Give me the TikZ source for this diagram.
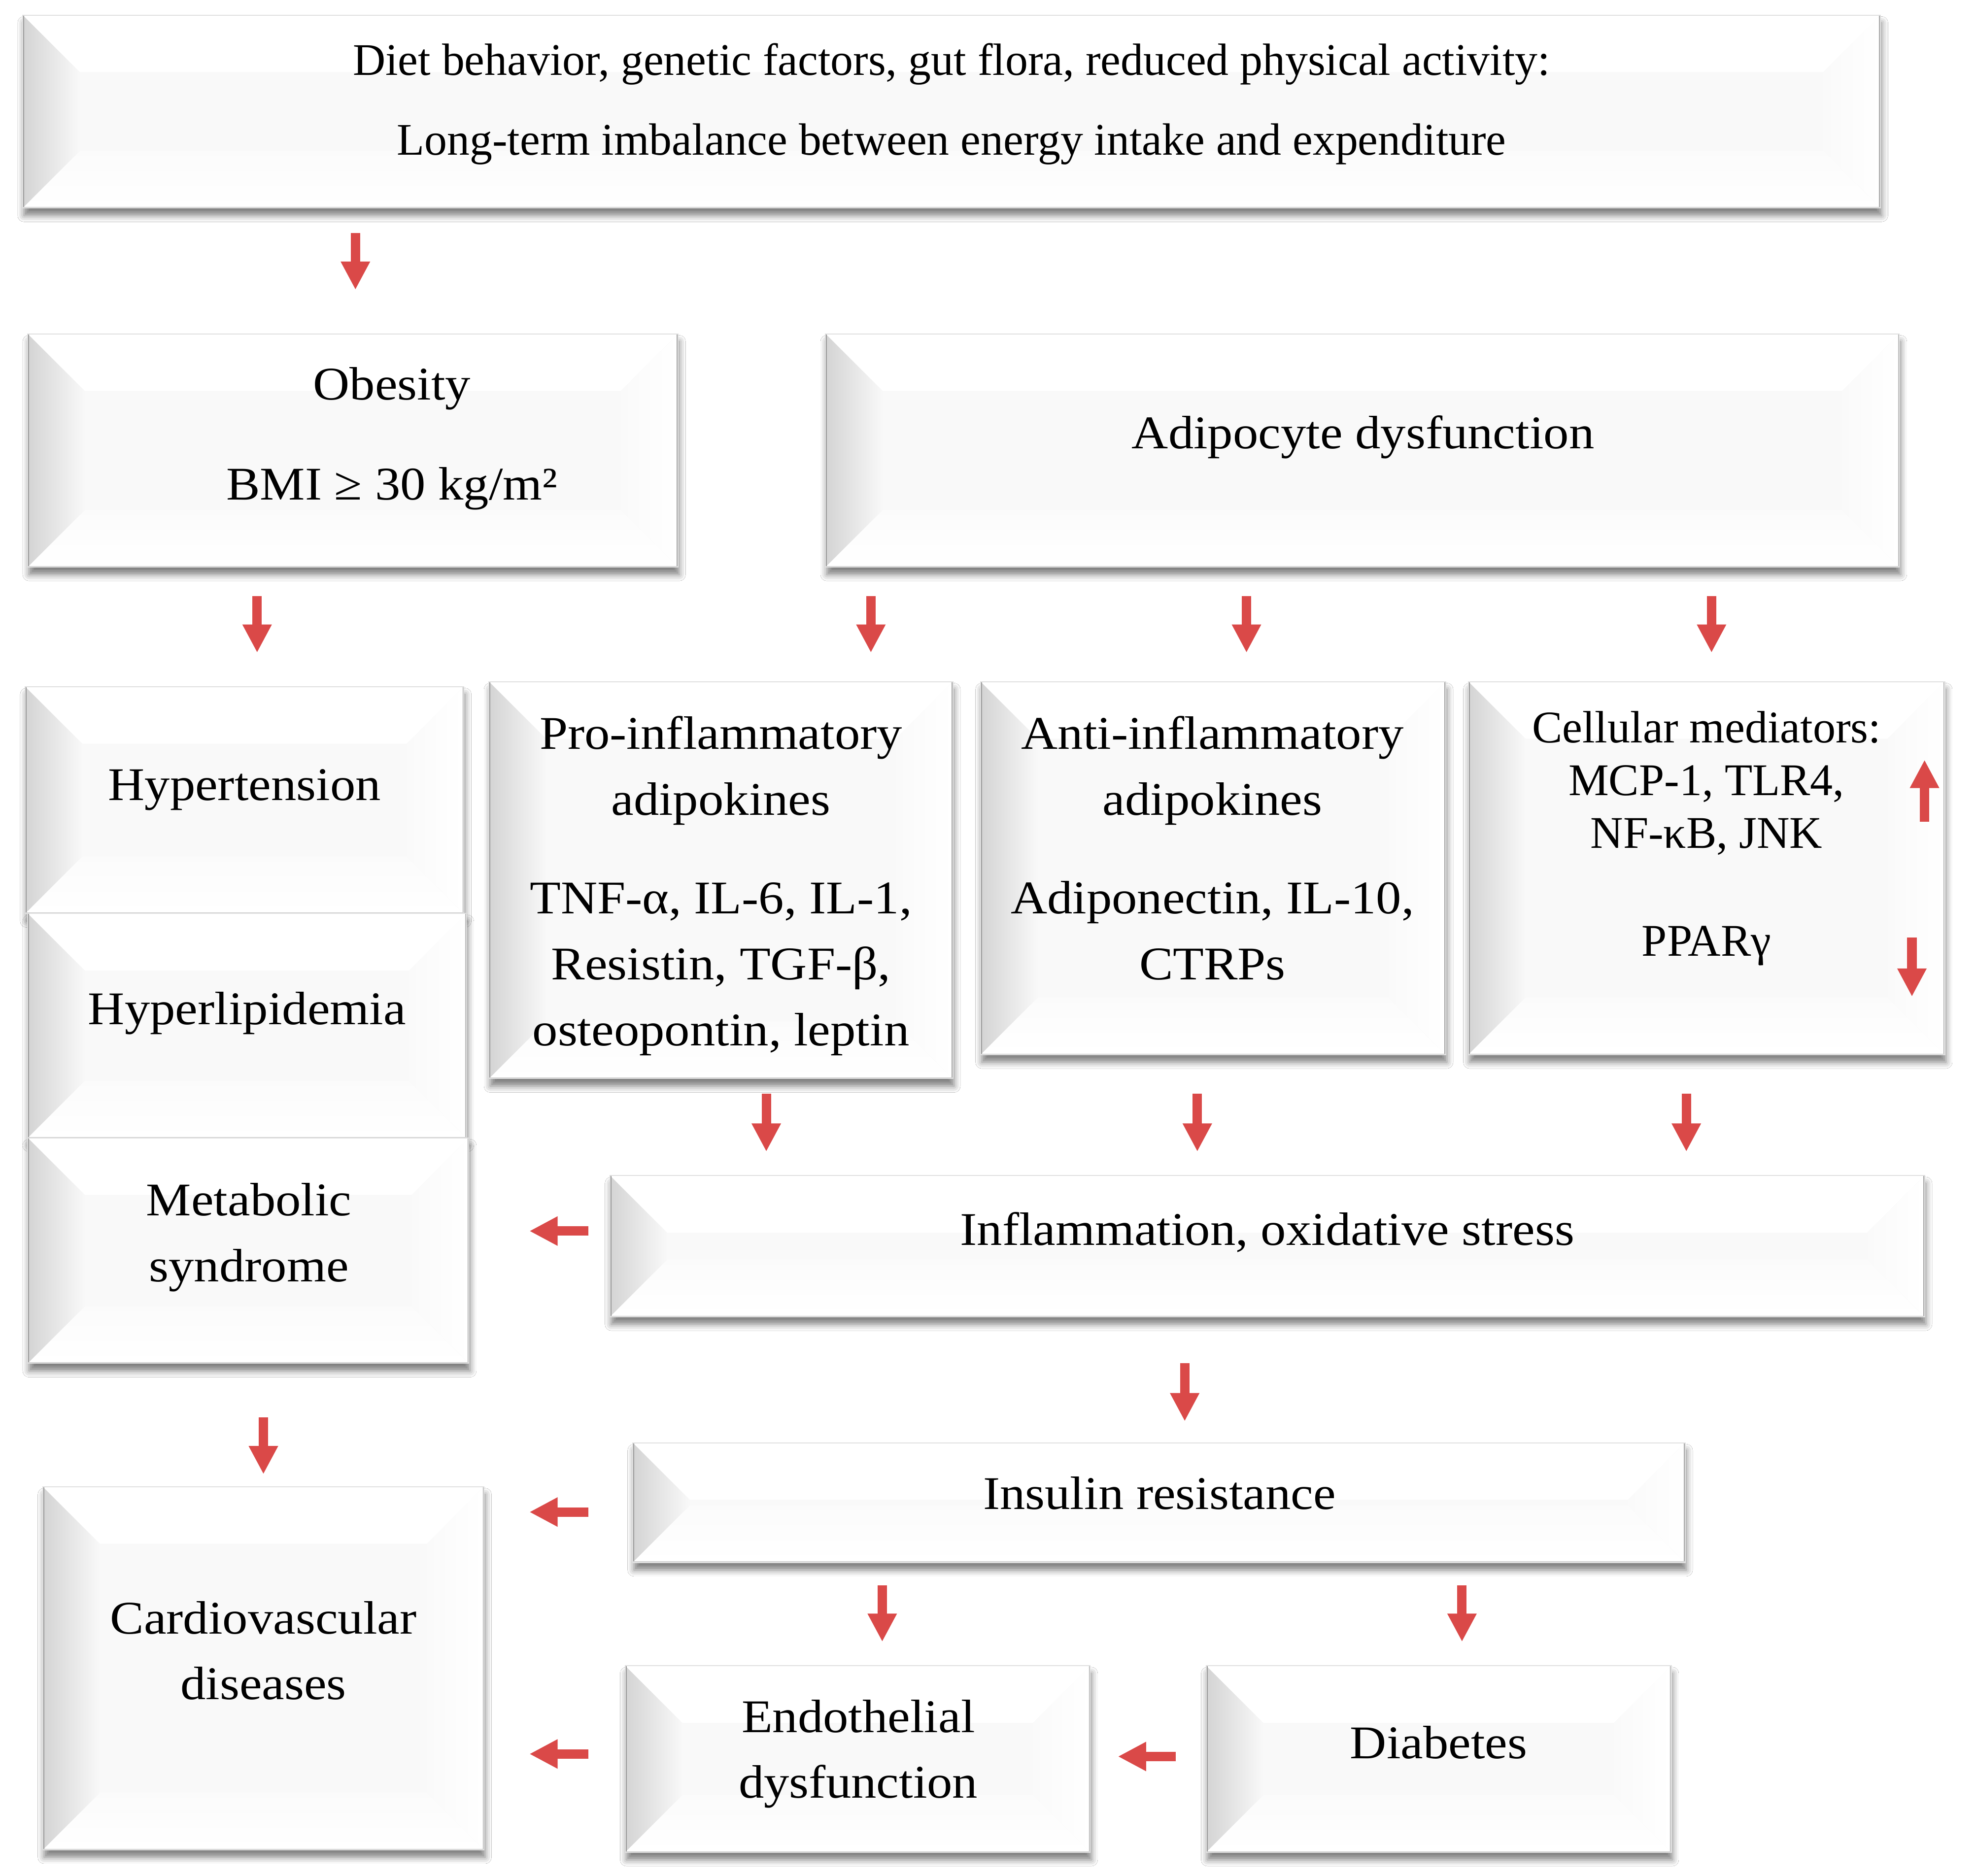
\documentclass[tikz,border=0pt]{standalone}
\usepackage{fontspec}
\setmainfont{Liberation Serif}
\newfontfamily\tms{Liberation Serif}
\newfontfamily\pal[FakeStretch=1.08]{Liberation Serif}
\usetikzlibrary{arrows.meta,shadows.blur,fit}
\definecolor{arr}{RGB}{218,73,72}
\tikzset{
  bbox/.style={rectangle, inner sep=0pt, fill=black!2.5, draw=black!12, line width=0.8pt,
    blur shadow={shadow xshift=1pt, shadow yshift=-6pt, shadow blur radius=5pt, shadow opacity=50},
    path picture={
      \path (path picture bounding box.north west) coordinate (pnw)
            (path picture bounding box.north east) coordinate (pne)
            (path picture bounding box.south west) coordinate (psw)
            (path picture bounding box.south east) coordinate (pse);
      \fill[white] (pnw) -- (pne) -- ([shift={(-45pt,-45pt)}]pne) -- ([shift={(45pt,-45pt)}]pnw) -- cycle;
      \fill[top color=black!1.5, bottom color=white] (psw) -- (pse) -- ([shift={(-45pt,45pt)}]pse) -- ([shift={(45pt,45pt)}]psw) -- cycle;
      \fill[left color=black!17, right color=black!2.5] (pnw) -- ([shift={(45pt,-45pt)}]pnw) -- ([shift={(45pt,45pt)}]psw) -- (psw) -- cycle;
      \fill[left color=black!2, right color=white] (pne) -- ([shift={(-45pt,-45pt)}]pne) -- ([shift={(-45pt,45pt)}]pse) -- (pse) -- cycle;
      \draw[black!40, line width=2.4pt] (pnw) -- (psw);
      \draw[black!35, line width=2pt] (pne) -- (pse);
      \draw[black!20, line width=1.6pt] (psw) -- (pse);
    }},
  ptxt/.style={font=\pal\fontsize{37}{52}\selectfont, align=center, inner sep=0pt},
  ttxt/.style={font=\tms\fontsize{35.7}{63}\selectfont, align=center, inner sep=0pt},
  ctxt/.style={font=\tms\fontsize{35.8}{41.5}\selectfont, align=center, inner sep=0pt},
  rarrow/.style={draw=arr, line width=7.4pt, -{Triangle[width=21.6pt,length=22.3pt]}},
}
\begin{document}
\begin{tikzpicture}[x=0.995pt,y=0.995pt]
\useasboundingbox[fill=white] (0,0) rectangle (1567.84,-1488.8);

% boxes
\node[bbox, fit={(18,-12) (1492,-165)}] (top) {};
\node[ttxt] (topt) at (755,-82.5) {Diet behavior, genetic factors, gut flora, reduced physical activity:\\Long-term imbalance between energy intake and expenditure};

\node[bbox, fit={(22,-265) (538,-450)}] (obes) {};
\node[ptxt] (obest) at (311,-348) {Obesity\\[27pt]BMI ≥ 30 kg/m²};

\node[bbox, fit={(655,-265) (1507,-450)}] (adip) {};
\node[ptxt] (adipt) at (1081.5,-347) {Adipocyte dysfunction};

\node[bbox, fit={(20,-545) (368,-725)}] (hyp) {};
\node[ptxt] (hypt) at (194,-627) {Hypertension};
\node[bbox, fit={(22,-725) (370,-903)}] (lip) {};
\node[ptxt] (lipt) at (196,-804) {Hyperlipidemia};
\node[bbox, fit={(22,-903) (372,-1082)}] (met) {};
\node[ptxt] (mett) at (197.5,-982) {Metabolic\\syndrome};

\node[bbox, fit={(388,-541) (756,-856)}] (pro) {};
\node[ptxt] (prot) at (572,-703) {Pro-inflammatory\\adipokines\\[26pt]TNF-α, IL-6, IL-1,\\Resistin, TGF-β,\\osteopontin, leptin};

\node[bbox, fit={(778,-541) (1147,-837)}] (anti) {};
\node[ptxt] (antit) at (962,-673) {Anti-inflammatory\\adipokines\\[26pt]Adiponectin, IL-10,\\CTRPs};

\node[bbox, fit={(1165,-541) (1543,-837)}] (cell) {};
\node[ctxt] (cellt) at (1354,-665.5) {Cellular mediators:\\MCP-1, TLR4,\\NF-κB, JNK\\[44pt]PPARγ};

\node[bbox, fit={(484,-933) (1527,-1045)}] (infl) {};
\node[ptxt] (inflt) at (1005.5,-978) {Inflammation, oxidative stress};

\node[bbox, fit={(34,-1180) (384,-1468)}] (card) {};
\node[ptxt] (cardt) at (209,-1310) {Cardiovascular\\diseases};

\node[bbox, fit={(502,-1145) (1337,-1240)}] (ins) {};
\node[ptxt] (inst) at (920,-1185) {Insulin resistance};

\node[bbox, fit={(496,-1322) (865,-1470)}] (endo) {};
\node[ptxt] (endot) at (681,-1392) {Endothelial\\dysfunction};

\node[bbox, fit={(957,-1322) (1326,-1470)}] (diab) {};
\node[ptxt] (diabt) at (1141.5,-1383) {Diabetes};

% arrow end points
\foreach \n/\x/\ya/\yb in {a1/282/185/230, a2/204/473/518, a3/691/473/518, a4/989/473/518, a5/1358/473/518,
  a6/608/868/914, a7/950/868/914, a8/1338/868/914, a9/940/1082/1128, a10/209/1125/1170,
  a11/700/1258/1303, a12/1160/1258/1303, up/1527/652/603, dn/1517/744/791}{
  \coordinate (\n s) at (\x,-\ya);
  \coordinate (\n e) at (\x,-\yb);
}
\foreach \n/\y/\xa/\xb in {l1/977/467/420, l2/1200/467/420, l3/1392/467/420, l4/1394/933/887}{
  \coordinate (\n s) at (\xa,-\y);
  \coordinate (\n e) at (\xb,-\y);
}
\foreach \n in {a1,a2,a3,a4,a5,a6,a7,a8,a9,a10,a11,a12,up,dn,l1,l2,l3,l4}{
  \draw[rarrow] (\n s) -- (\n e);
}
\end{tikzpicture}
\end{document}
